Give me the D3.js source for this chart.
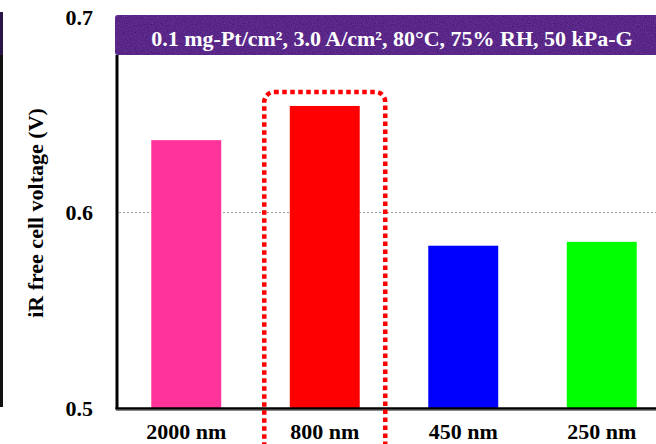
<!DOCTYPE html>
<html>
<head>
<meta charset="utf-8">
<script src="https://cdn.jsdelivr.net/npm/d3@7"></script>
<style>
  html, body { margin: 0; padding: 0; background: #fff; }
  svg { display: block; font-family: "Liberation Serif", "Times New Roman", serif; font-weight: bold; }
</style>
</head>
<body>
<svg id="chart" width="656" height="444"></svg>
<script>
// Catalyst particle size vs. iR-free cell voltage
const categories = ["2000 nm", "800 nm", "450 nm", "250 nm"];
const voltages = [0.637, 0.6545, 0.583, 0.585];
const barColors = ["#ff3399", "#ff0000", "#0000ff", "#00ff00"];
const yTicks = [0.5, 0.6, 0.7];
const gridValues = [0.6];
const headerText = "0.1 mg-Pt/cm², 3.0 A/cm², 80°C, 75% RH, 50 kPa-G";
const highlighted = "800 nm";
const yTitle = "iR free cell voltage (V)";

const svg = d3.select("#chart");

const x = d3.scaleBand()
  .domain(categories)
  .range([117, 671])
  .paddingInner(0.495)
  .paddingOuter(0.2475);

const y = d3.scaleLinear()
  .domain([0.5, 0.7])
  .range([408, 17]);

// edge of the neighbouring panel on the left
svg.append("rect").attr("x", 0).attr("y", 12).attr("width", 3).attr("height", 44).attr("fill", "#2a1548");
svg.append("rect").attr("x", 0).attr("y", 55).attr("width", 3).attr("height", 352).attr("fill", "#111");

// dotted grid line
svg.append("g")
  .selectAll("line")
  .data(gridValues)
  .join("line")
  .attr("x1", 119).attr("x2", 656)
  .attr("y1", d => y(d)).attr("y2", d => y(d))
  .attr("stroke", "#9a9a9a")
  .attr("stroke-width", 1)
  .attr("stroke-dasharray", "2,2");

// bars
svg.append("g")
  .selectAll("rect")
  .data(categories)
  .join("rect")
  .attr("x", d => x(d))
  .attr("width", x.bandwidth())
  .attr("y", (d, i) => y(voltages[i]))
  .attr("height", (d, i) => y(0.5) - y(voltages[i]))
  .attr("fill", (d, i) => barColors[i]);

// header band with a grainy fill
const defs = svg.append("defs");
const f = defs.append("filter").attr("id", "grain").attr("x", 0).attr("y", 0).attr("width", 1).attr("height", 1);
f.append("feTurbulence").attr("type", "fractalNoise").attr("baseFrequency", 0.9).attr("numOctaves", 2).attr("seed", 3).attr("result", "noise");
f.append("feColorMatrix").attr("in", "noise").attr("type", "matrix")
  .attr("values", "0 0 0 0 0.35  0 0 0 0 0.12  0 0 0 0 0.6  0 0 0 0.35 0").attr("result", "tint");
f.append("feComposite").attr("in", "tint").attr("in2", "SourceGraphic").attr("operator", "in").attr("result", "tex");
f.append("feMerge").selectAll("feMergeNode").data(["SourceGraphic", "tex"]).join("feMergeNode").attr("in", d => d);

svg.append("rect")
  .attr("x", 115).attr("y", 15).attr("width", 560).attr("height", 40)
  .attr("rx", 3)
  .attr("fill", "#3f1174")
  .attr("filter", "url(#grain)");

svg.append("text")
  .attr("x", 392).attr("y", 46)
  .attr("text-anchor", "middle")
  .attr("fill", "#fff")
  .attr("font-size", 22)
  .text(headerText);

// axis lines
svg.append("line").attr("x1", 117).attr("x2", 117).attr("y1", 55).attr("y2", 409)
  .attr("stroke", "#000").attr("stroke-width", 3);
svg.append("line").attr("x1", 116).attr("x2", 656).attr("y1", 410.5).attr("y2", 410.5)
  .attr("stroke", "#888").attr("stroke-width", 1);
svg.append("line").attr("x1", 115.5).attr("x2", 656).attr("y1", 408.5).attr("y2", 408.5)
  .attr("stroke", "#000").attr("stroke-width", 2.5);

// y axis labels
const yAxis = svg.append("g")
  .attr("transform", "translate(117,0)")
  .call(d3.axisLeft(y).tickValues(yTicks).tickFormat(d3.format(".1f")).tickSize(0).tickPadding(24));
yAxis.select(".domain").remove();
yAxis.selectAll("text")
  .attr("font-family", "Liberation Serif, serif")
  .attr("font-weight", "bold")
  .attr("font-size", 22)
  .attr("fill", "#000");

// x axis labels
const xAxis = svg.append("g")
  .attr("transform", "translate(0,408)")
  .call(d3.axisBottom(x).tickSize(0));
xAxis.select(".domain").remove();
xAxis.selectAll("text")
  .attr("y", 31)
  .attr("dy", 0)
  .attr("font-family", "Liberation Serif, serif")
  .attr("font-weight", "bold")
  .attr("font-size", 22)
  .attr("fill", "#000");

// y axis title
svg.append("text")
  .attr("transform", "translate(43,213) rotate(-90)")
  .attr("text-anchor", "middle")
  .attr("font-size", 22)
  .attr("fill", "#000")
  .text(yTitle);

// dotted highlight around one sample
const hx = x(highlighted) + x.bandwidth() / 2;
svg.append("rect")
  .attr("x", hx - 60.5).attr("y", 92)
  .attr("width", 121).attr("height", 380)
  .attr("rx", 10)
  .attr("fill", "none")
  .attr("stroke", "#ff0000")
  .attr("stroke-width", 4.5)
  .attr("stroke-dasharray", "4.5,3.5");
</script>
</body>
</html>
